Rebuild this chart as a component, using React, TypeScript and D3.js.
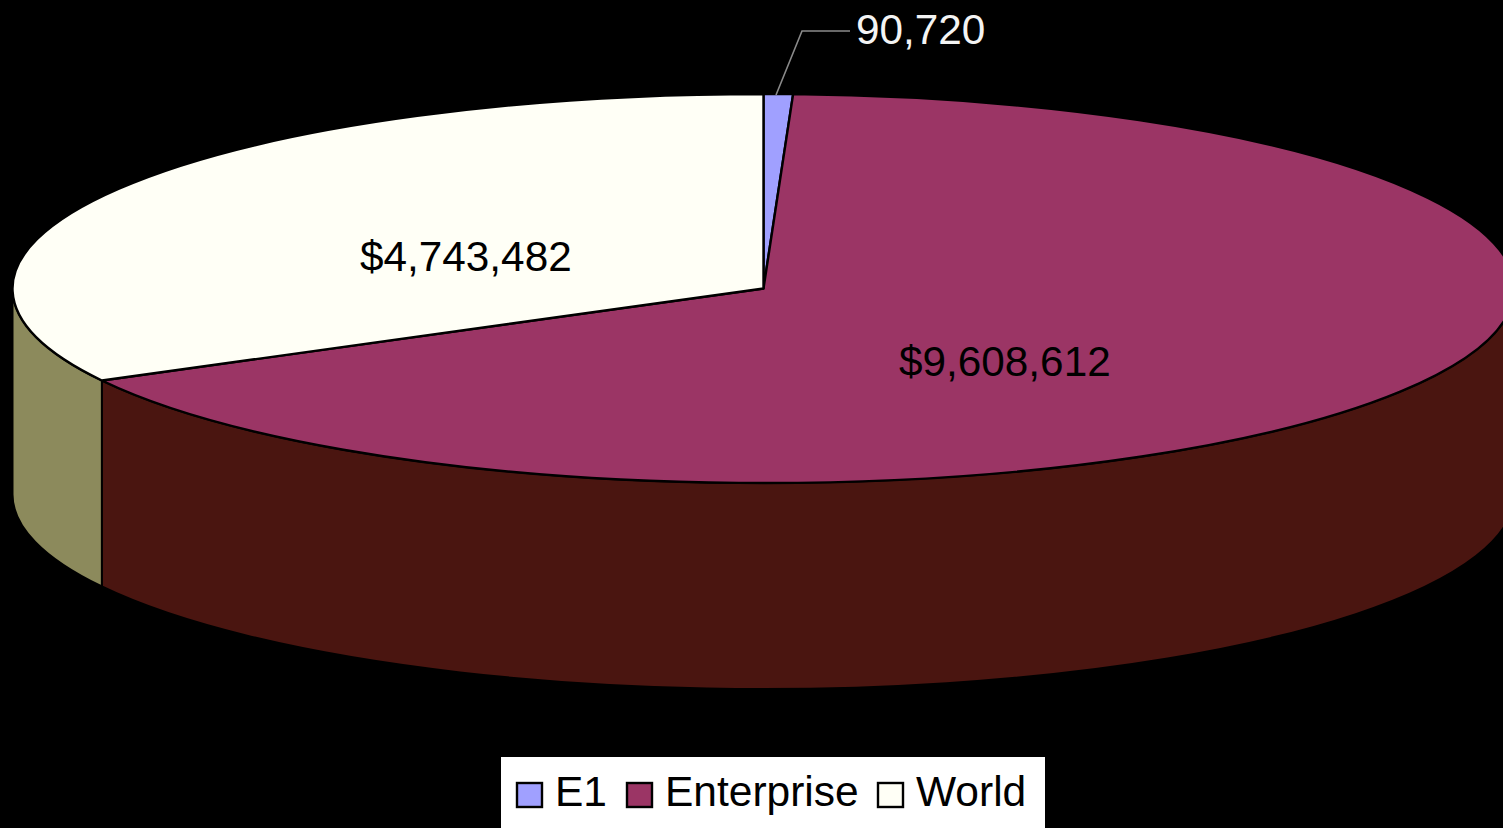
import React from "react";
import * as d3 from "d3";

// Contract value by product line
const categories = ["E1", "Enterprise", "World"];
const values = [90720, 9608612, 4743482];
const valueLabels = ["90,720", "$9,608,612", "$4,743,482"];

const topColors = ["#a0a0ff", "#9b3565", "#fffff6"];
const sideColors = ["#4f4f80", "#4a1510", "#8c8a5c"];

const WIDTH = 1503;
const HEIGHT = 828;
const CX = 763.5;
const CY = 288.5;
const RX = 751;
const RY = 194.5;
const DEPTH = 206;
const FONT = "'Liberation Sans', Arial, sans-serif";

const pie = d3
  .pie<number>()
  .sort(null)
  .startAngle(0)
  .endAngle(2 * Math.PI);

const slices = pie(values);

// Angles run clockwise from twelve o'clock, as in d3.arc.
const px = (a: number) => CX + RX * Math.sin(a);
const py = (a: number) => CY - RY * Math.cos(a);

const radial = d3
  .arc<d3.PieArcDatum<number>>()
  .innerRadius(0)
  .outerRadius(RX);

// Visible wall of a slice: the part of its rim on the near half of the disc.
function wallPath(start: number, end: number): string | null {
  const a0 = Math.max(start, Math.PI / 2);
  const a1 = Math.min(end, (3 * Math.PI) / 2);
  if (a1 <= a0) return null;
  const large = a1 - a0 > Math.PI ? 1 : 0;
  return [
    `M${px(a0)},${py(a0)}`,
    `A${RX},${RY} 0 ${large} 1 ${px(a1)},${py(a1)}`,
    `L${px(a1)},${py(a1) + DEPTH}`,
    `A${RX},${RY} 0 ${large} 0 ${px(a0)},${py(a0) + DEPTH}`,
    "Z",
  ].join(" ");
}

const legendSwatchX = [517, 627, 878];
const legendTextX = [555, 665, 916];
const valueLabelPos = [
  { x: 856, y: 44, fill: "#f4f4f4" },
  { x: 899, y: 376, fill: "#000" },
  { x: 360, y: 271, fill: "#000" },
];

export default function App() {
  return (
    <svg
      width={WIDTH}
      height={HEIGHT}
      viewBox={`0 0 ${WIDTH} ${HEIGHT}`}
      style={{ position: "absolute", left: 0, top: 0, background: "#000", display: "block" }}
    >
      <rect width={WIDTH} height={HEIGHT} fill="#000" />

      {/* Walls first, so the disc sits on top of them */}
      {slices.map((s, i) => {
        const d = wallPath(s.startAngle, s.endAngle);
        return d ? (
          <path key={categories[i]} d={d} fill={sideColors[i]} stroke="#000" strokeWidth={2} strokeLinejoin="round" />
        ) : null;
      })}

      {/* Top face: a flat pie squashed into an ellipse */}
      <g transform={`translate(${CX},${CY}) scale(1,${RY / RX})`}>
        {slices.map((s, i) => (
          <path
            key={categories[i]}
            d={radial(s) as string}
            fill={topColors[i]}
            stroke="#000"
            strokeWidth={2.4}
            strokeLinejoin="round"
            vectorEffect="non-scaling-stroke"
          />
        ))}
      </g>

      {/* Leader from the thin E1 slice to its label */}
      <polyline points="776,95 802,31 850,31" fill="none" stroke="#8a8a8a" strokeWidth={1.6} />

      {valueLabels.map((t, i) => (
        <text key={t} x={valueLabelPos[i].x} y={valueLabelPos[i].y} fontFamily={FONT} fontSize={42.3} fill={valueLabelPos[i].fill}>
          {t}
        </text>
      ))}

      {/* Legend */}
      <rect x={501} y={757} width={544} height={71} fill="#fff" />
      {categories.map((c, i) => (
        <g key={c}>
          <rect x={legendSwatchX[i]} y={783} width={25} height={24} fill={topColors[i]} stroke="#000" strokeWidth={2.4} />
          <text x={legendTextX[i]} y={806} fontFamily={FONT} fontSize={42.5} fill="#000">
            {c}
          </text>
        </g>
      ))}
    </svg>
  );
}
